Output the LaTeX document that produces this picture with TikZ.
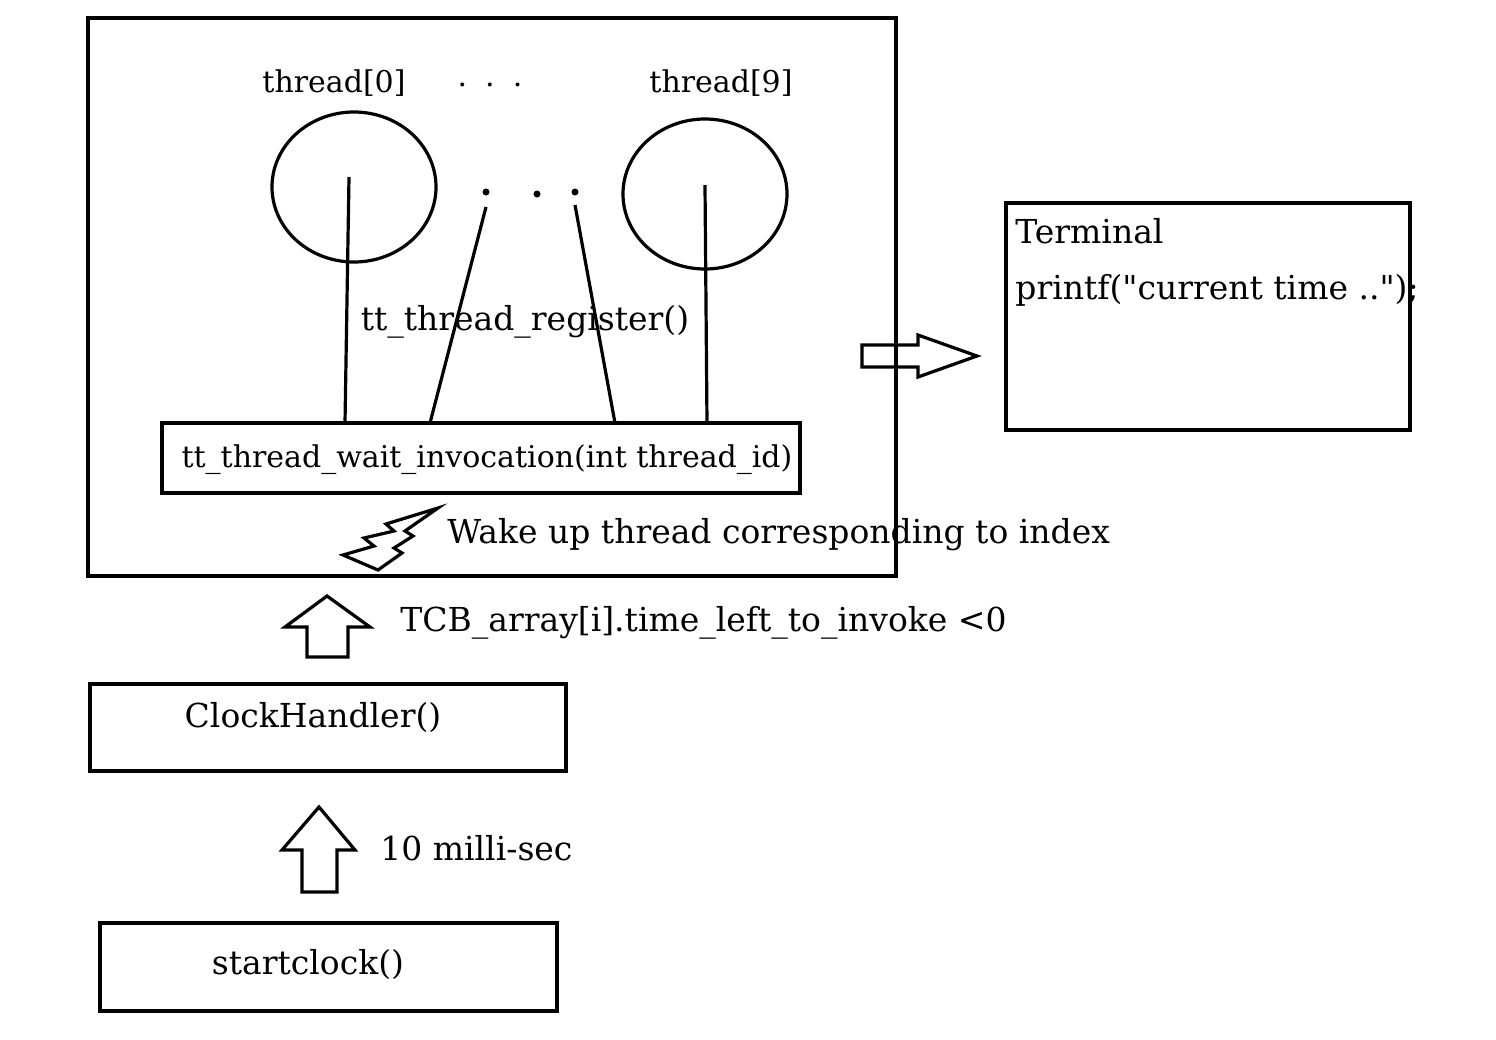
\documentclass[tikz,border=0pt]{standalone}
\usepackage{fontspec}
\setmainfont{DejaVu Serif}[Ligatures=TeXOff]
\usetikzlibrary{shapes.geometric,positioning}

\begin{document}
\begin{tikzpicture}[
    x=0.5pt, y=-0.5pt,
    box/.style={
        rectangle, draw, line width=1.6pt, inner sep=0pt
    },
    thread/.style={
        ellipse, draw, line width=1.6pt, inner sep=0pt,
        minimum width=82pt, minimum height=75pt
    },
    lbl/.style={font=\fontsize{16.5}{18}\selectfont, inner sep=0pt},
    small/.style={font=\fontsize{15}{17}\selectfont, inner sep=0pt},
    dot/.style={circle, fill, inner sep=0pt, minimum size=3.5pt},
    link/.style={line width=1.6pt},
    hollow/.style={draw, line width=1.6pt, line join=miter}
]
\useasboundingbox (0,0) rectangle (1496,1040);

% Thread area
\node[box, minimum width=404pt, minimum height=279pt] (frame) at (492,297) {};
\node[small] (t0lbl) at (334,83) {thread[0]};
\node[small] (dotslbl) at (490,85) {.\hspace{0.6em}.\hspace{0.6em}.};
\node[small] (t9lbl) at (721,83) {thread[9]};
\node[thread] (t0) at (354,187) {};
\node[thread] (t9) at (705,194) {};
\node[dot] (d1) at (486,192) {};
\node[dot] (d2) at (537,194) {};
\node[dot] (d3) at (575,192) {};

\node[box, minimum width=319pt, minimum height=35pt] (wait) at (481,458) {};
\node[small] (waittxt) at (487,460) {tt\_thread\_wait\_invocation(int thread\_id)};

% Register lines
\coordinate (a0) at (349,177);
\coordinate (a1) at (486,207);
\coordinate (a2) at (575,205);
\coordinate (a3) at (705,185);
\coordinate (b0) at (345,423);
\coordinate (b1) at (430,423);
\coordinate (b2) at (615,423);
\coordinate (b3) at (707,423);
\draw[link] (a0) -- (b0);
\draw[link] (a1) -- (b1);
\draw[link] (a2) -- (b2);
\draw[link] (a3) -- (b3);
\node[lbl] (reg) at (525,322) {tt\_thread\_register()};

% Wake up bolt
\draw[hollow] (438,508) -- (386,524) -- (394,531) -- (364,538) -- (374,546)
    -- (343,555) -- (378,570) -- (402,553) -- (394,548) -- (413,536)
    -- (405,531) -- cycle;
\node[lbl, anchor=west] (wake) at (447,535) {Wake up thread corresponding to index};

% Terminal
\node[box, minimum width=202pt, minimum height=113.5pt] (term) at (1208,316.5) {};
\node[lbl, anchor=west] (termtxt) at (1015,231) {Terminal};
\node[lbl, anchor=west] (printtxt) at (1015,290) {printf("current time ..");};
\draw[hollow] (862,345) -- (918,345) -- (918,335) -- (977,356) -- (918,377)
    -- (918,367) -- (862,367) -- cycle;

% Clock side
\draw[hollow] (327,596) -- (370,627) -- (348,627) -- (348,657) -- (307,657)
    -- (307,627) -- (285,627) -- cycle;
\node[lbl, anchor=west] (cond) at (400,623) {TCB\_array[i].time\_left\_to\_invoke <0};

\node[box, minimum width=238pt, minimum height=43.5pt] (clock) at (328,727.5) {};
\node[lbl] (clocktxt) at (313,718) {ClockHandler()};

\draw[hollow] (319,807) -- (355,850) -- (337,850) -- (337,892) -- (302,892)
    -- (302,850) -- (282,850) -- cycle;
\node[lbl, anchor=west] (tick) at (380,848) {10 milli-sec};

\node[box, minimum width=228.5pt, minimum height=44pt] (start) at (328.5,967) {};
\node[lbl] (starttxt) at (308,965) {startclock()};

\end{tikzpicture}
\end{document}
